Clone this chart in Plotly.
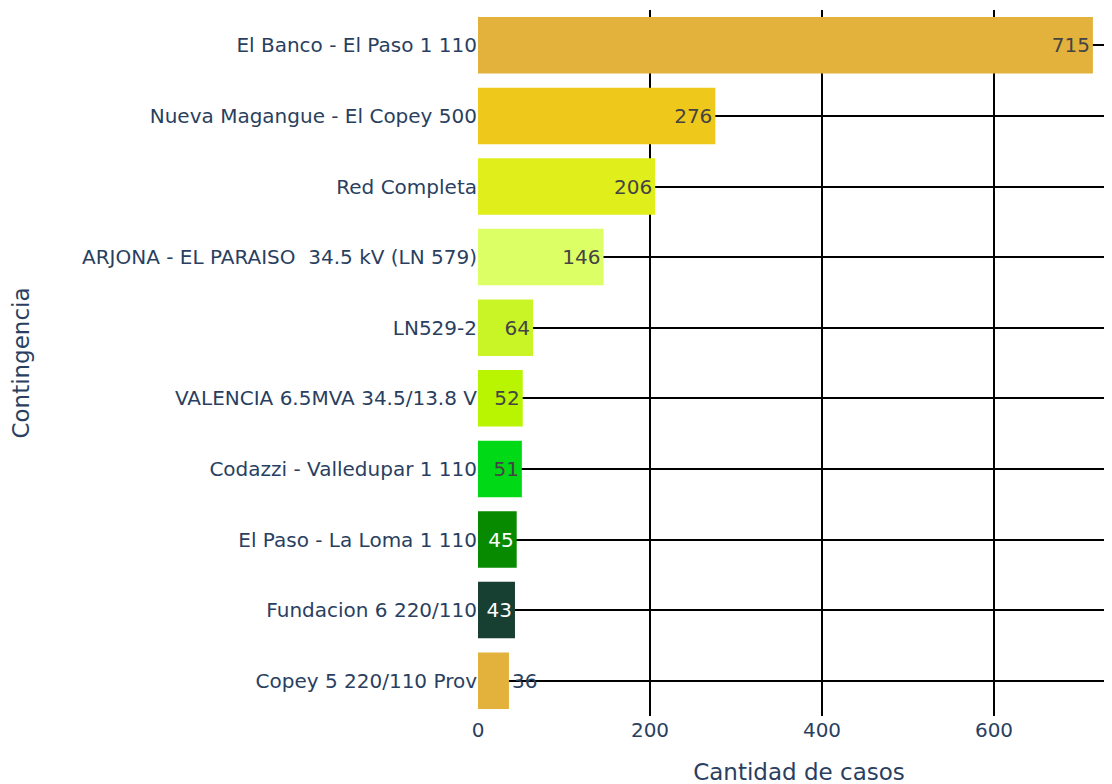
import plotly.graph_objects as go

categorias = [
    "El Banco - El Paso 1 110",
    "Nueva Magangue - El Copey 500",
    "Red Completa",
    "ARJONA - EL PARAISO  34.5 kV (LN 579)",
    "LN529-2",
    "VALENCIA 6.5MVA 34.5/13.8 V",
    "Codazzi - Valledupar 1 110",
    "El Paso - La Loma 1 110",
    "Fundacion 6 220/110",
    "Copey 5 220/110 Prov",
]
casos = [715, 276, 206, 146, 64, 52, 51, 45, 43, 36]
colores = ["#E3B23C", "#EEC91B", "#E0EE1C", "#DCFF66", "#C9F526",
           "#B9F500", "#00D916", "#078A00", "#173F32", "#E3B23C"]
posiciones_texto = ["inside"] * 9 + ["outside"]

fig = go.Figure(go.Bar(
    x=casos,
    y=categorias,
    orientation="h",
    marker=dict(color=colores, line=dict(width=0)),
    text=casos,
    textposition=posiciones_texto,
    textangle=0,
    textfont=dict(size=20),
    cliponaxis=False,
))

fig.update_layout(
    template="plotly_white",
    width=1112,
    height=784,
    margin=dict(l=470, r=0, t=2, b=76, autoexpand=False),
    font=dict(family="DejaVu Sans, Verdana, sans-serif", size=20, color="#2a3f5f"),
    bargap=0.2,
    showlegend=False,
    plot_bgcolor="white",
    paper_bgcolor="white",
)
fig.update_xaxes(
    range=[0, 746.5],
    tickvals=[0, 200, 400, 600],
    showgrid=True, gridcolor="black", gridwidth=1.5,
    zeroline=False,
    title=dict(text="Cantidad de casos", font=dict(size=23), standoff=22),
    automargin=False,
)
fig.update_yaxes(
    autorange="reversed",
    showgrid=True, gridcolor="black", gridwidth=1.5,
    title=dict(text="Contingencia", font=dict(size=23), standoff=45),
    automargin=False,
    ticklabelstandoff=0,
)

fig.write_html("out.html")
